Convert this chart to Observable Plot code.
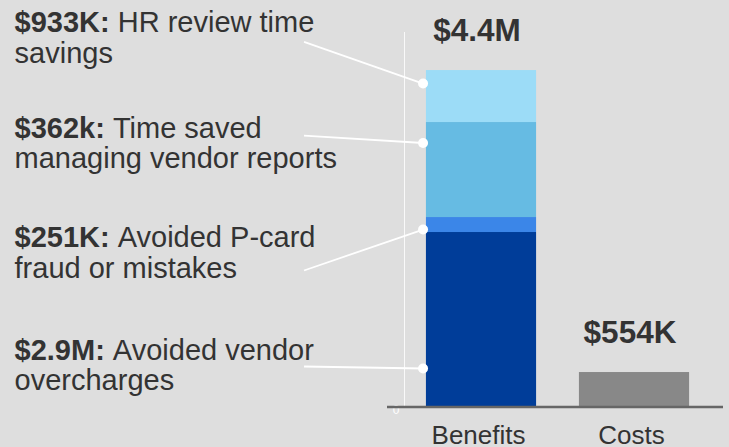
<!DOCTYPE html>
<html><head><meta charset="utf-8">
<script src="https://cdn.jsdelivr.net/npm/d3@7"></script>
<script src="https://cdn.jsdelivr.net/npm/@observablehq/plot@0.6"></script>
<style>html,body{margin:0;padding:0;background:#dedede;} #chart svg{display:block}</style>
</head><body><div id="chart"></div>
<script>
// ---- data (values in $M, as drawn) ----
const categories = ["Benefits", "Costs"];
const segmentNames = ["Avoided vendor overcharges", "Avoided P-card fraud or mistakes", "Time saved managing vendor reports", "HR review time savings"];
const segmentValues = [2.283, 0.196, 1.243, 0.680];
const costValues = [0.451];
const totalLabels = ["$4.4M", "$554K"];
const labelBold = ["$2.9M:", "$251K:", "$362k:", "$933K:"];
const labelRest = ["Avoided vendor", "Avoided P-card", "Time saved", "HR review time"];
const labelLine2 = ["overcharges", "fraud or mistakes", "managing vendor reports", "savings"];
const yTicks = [0];

// ---- layout & style ----
const W = 729, H = 447;
const FONT = "'Liberation Sans', Arial, Helvetica, sans-serif";
const segmentColors = ["#003d99", "#3b86e8", "#66bbe3", "#9cdcf7"];
const costColor = "#888888";
const textColor = "#333333";
const yMax = 4.9;
const xDomain = [-0.5033, 1.5817];
const barHalf = 0.36;
const labelX = -3.052, lineStartX = -1.160, dotX = -0.382;
const annLabelY = [0.621, 2.087, 3.526, 4.906];
const annLineStartY = [0.530, 1.786, 3.552, 4.778];
const annDotY = [0.504, 2.322, 3.454, 4.232];
const labelSize = 29, axisSize = 26, totalSize = 31.5, lineGap = 30.5;

const ctx = document.createElement("canvas").getContext("2d");
function textWidth(s, weight) { ctx.font = `${weight} ${labelSize}px ${FONT}`; return ctx.measureText(s).width; }

const ends = d3.cumsum(segmentValues);
const segments = segmentValues.map((v, i) => ({name: segmentNames[i], i: 0, y1: ends[i] - v, y2: ends[i], color: segmentColors[i]}));
const costs = costValues.map((v) => ({i: 1, y1: 0, y2: v}));
const totals = [{i: 0, v: ends[ends.length - 1], label: totalLabels[0]}, {i: 1, v: d3.sum(costValues), label: totalLabels[1]}];
const ann = labelBold.map((b, k) => ({bold: b, rest: labelRest[k], line2: labelLine2[k], ly: annLabelY[k], sy: annLineStartY[k], dy: annDotY[k]}));

const marks = [
  Plot.ruleX([xDomain[0]], {y1: 0, y2: yMax, stroke: "white", strokeWidth: 1, strokeOpacity: 0.8}),
  Plot.axisY({ticks: yTicks, tickFormat: d => String(d), tickSize: 0, tickPadding: 5, fill: "white", fontSize: 12, dy: 3, label: null}),
  Plot.rect(segments, {x1: d => d.i - barHalf, x2: d => d.i + barHalf, y1: "y1", y2: "y2", fill: "color"}),
  Plot.rect(costs, {x1: d => d.i - barHalf, x2: d => d.i + barHalf, y1: "y1", y2: "y2", fill: costColor}),
  Plot.ruleY([0], {stroke: "#666666", strokeWidth: 2.5, insetLeft: -17}),
  Plot.text(totals, {x: "i", y: "v", text: "label", dx: -4.5, dy: -29.5, lineAnchor: "bottom", fontSize: totalSize, fontWeight: "bold", fill: textColor}),
  Plot.axisX({ticks: [0, 1], tickFormat: i => categories[i], tickSize: 0, tickPadding: 19, fontSize: axisSize, fill: textColor, dx: -3, label: null}),
  Plot.link(ann, {x1: lineStartX, y1: "sy", x2: dotX, y2: "dy", stroke: "white", strokeWidth: 1.8}),
  Plot.dot(ann, {x: dotX, y: "dy", r: 5, fill: "white"}),
  Plot.text(ann, {x: labelX, y: "ly", text: "bold", textAnchor: "start", lineAnchor: "bottom", fontSize: labelSize, fontWeight: "bold", fill: textColor}),
  Plot.text(ann, {x: labelX, y: "ly", text: "line2", textAnchor: "start", lineAnchor: "bottom", dy: lineGap, fontSize: labelSize, fill: textColor}),
  ...ann.map(a => Plot.text([a], {x: labelX, y: "ly", text: "rest", textAnchor: "start", lineAnchor: "bottom", dx: textWidth(a.bold, "bold") + textWidth(" ", "normal"), fontSize: labelSize, fill: textColor}))
];

const chart = Plot.plot({
  width: W, height: H,
  marginLeft: 404, marginRight: 6, marginTop: 32, marginBottom: 40.5,
  x: {domain: xDomain, axis: null},
  y: {domain: [0, yMax], axis: null},
  style: {background: "#dedede", fontFamily: FONT, overflow: "visible"},
  marks
});
document.getElementById("chart").appendChild(chart);
</script>
</body></html>
